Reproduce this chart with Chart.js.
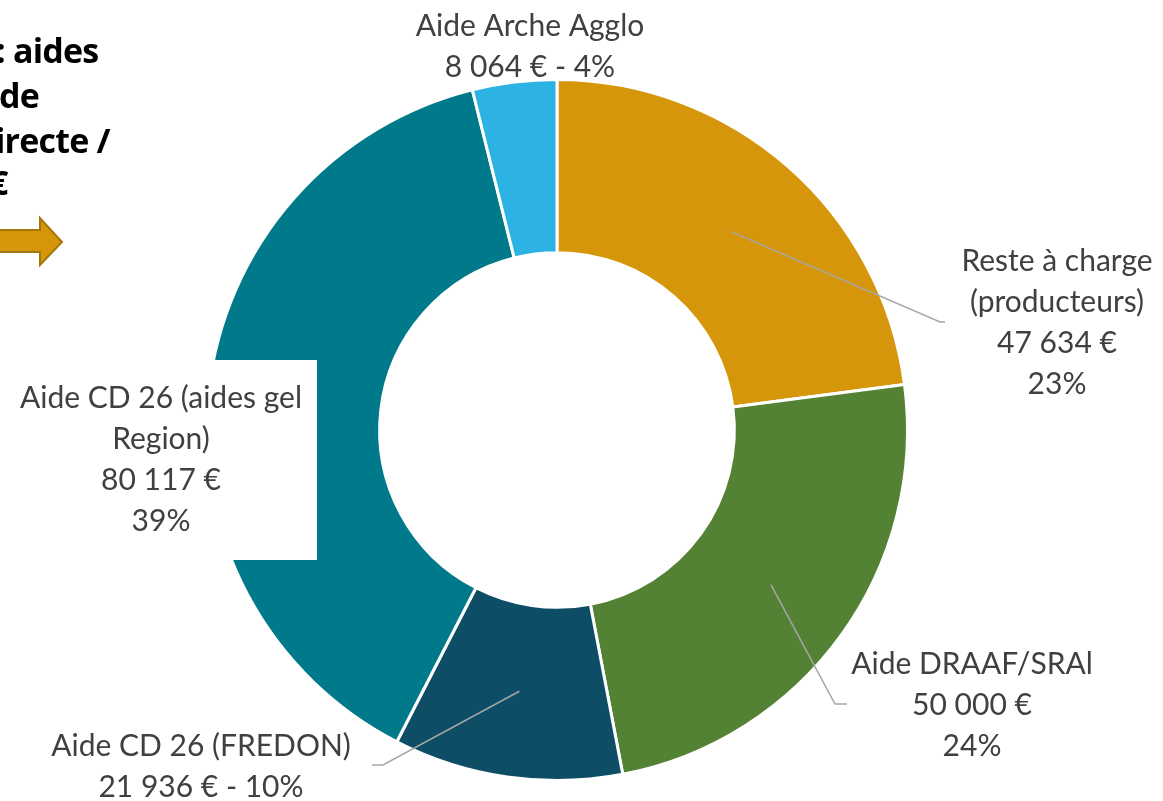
<!DOCTYPE html>
<html>
<head>
<meta charset="utf-8">
<script src="https://cdn.jsdelivr.net/npm/chart.js@4"></script>
<style>
  html, body { margin: 0; padding: 0; background: #fff; overflow: hidden; }
  #wrap { position: relative; width: 1163px; height: 801px; }
  #chart { position: absolute; left: 0; top: 0; }
  .side { position: absolute; font-family: "Open Sans", Lato, sans-serif; font-weight: 700;
          font-size: 34px; color: #000; white-space: nowrap; line-height: 45px; letter-spacing: -0.8px; }
  #arrow { position: absolute; left: 0; top: 212px; }
</style>
</head>
<body>
<div id="wrap">
  <canvas id="chart" width="1163" height="801"></canvas>
  <div class="side" style="left:-4px;top:28px">: aides</div>
  <div class="side" style="left:-1px;top:73px">de</div>
  <div class="side" style="left:-5px;top:118px">irecte /</div>
  <div class="side" style="left:-11px;top:160px">€</div>
  <svg id="arrow" width="70" height="60">
    <polygon points="-2,18 40,18 40,6 62,30 40,53 40,40 -2,40" fill="#D6960B" stroke="#A5760A" stroke-width="2"/>
  </svg>
</div>
<script>
const categories = ['Reste à charge (producteurs)', 'Aide DRAAF/SRAl', 'Aide CD 26 (FREDON)', 'Aide CD 26 (aides gel Region)', 'Aide Arche Agglo'];
const amounts = [47634, 50000, 21936, 80117, 8064];
const percentLabels = [23, 24, 10, 39, 4];
const sliceColors = ['#D6960B', '#548235', '#0E4D66', '#007A8B', '#2DB3E3'];
// how each category name wraps in its label
const nameLines = [['Reste à charge', '(producteurs)'], ['Aide DRAAF/SRAl'], ['Aide CD 26 (FREDON)'], ['Aide CD 26 (aides gel', 'Region)'], ['Aide Arche Agglo']];
const inlinePct = [false, false, true, false, true];

// where the labels sit (centre x, first line y) and the elbow of the leader lines
const labelPos = [
  { x: 1057, y: 261, elbow: [[940, 322], [945, 322]] },
  { x: 972, y: 664, elbow: [[835, 704], [847, 704]] },
  { x: 201, y: 746, elbow: [[383, 765], [372, 765]] },
  { x: 161, y: 398, box: [0, 360, 317, 200] },
  { x: 530, y: 26 }
];

const fmt = n => n.toString().replace(/\B(?=(\d{3})+(?!\d))/g, ' ') + ' €';

const labelPlugin = {
  id: 'sliceLabels',
  afterDatasetsDraw(chart) {
    const ctx = chart.ctx;
    const arcs = chart.getDatasetMeta(0).data;
    ctx.save();
    arcs.forEach((arc, i) => {
      const pos = labelPos[i];
      const pct = percentLabels[i] + '%';
      const lines = nameLines[i].slice();
      if (inlinePct[i]) lines.push(fmt(amounts[i]) + ' - ' + pct);
      else lines.push(fmt(amounts[i]), pct);

      if (pos.box) {
        ctx.fillStyle = '#fff';
        ctx.fillRect(pos.box[0], pos.box[1], pos.box[2], pos.box[3]);
      }
      if (pos.elbow) {
        const p = arc.tooltipPosition();
        ctx.strokeStyle = '#A6A6A6';
        ctx.lineWidth = 1.5;
        ctx.beginPath();
        ctx.moveTo(p.x, p.y);
        pos.elbow.forEach(pt => ctx.lineTo(pt[0], pt[1]));
        ctx.stroke();
      }
      ctx.fillStyle = '#404040';
      ctx.font = '30px Lato, "Open Sans", sans-serif';
      ctx.textAlign = 'center';
      ctx.textBaseline = 'middle';
      lines.forEach((t, k) => ctx.fillText(t, pos.x, pos.y + k * 41));
    });
    ctx.restore();
  }
};

new Chart(document.getElementById('chart').getContext('2d'), {
  type: 'doughnut',
  data: {
    labels: categories,
    datasets: [{
      data: amounts,
      backgroundColor: sliceColors,
      borderColor: '#fff',
      borderWidth: 3,
      hoverOffset: 0
    }]
  },
  options: {
    responsive: false,
    animation: false,
    cutout: '50.6%',
    layout: { padding: { top: 78, bottom: 19, left: 205, right: 254 } },
    plugins: { legend: { display: false }, tooltip: { enabled: false } }
  },
  plugins: [labelPlugin]
});
</script>
</body>
</html>
